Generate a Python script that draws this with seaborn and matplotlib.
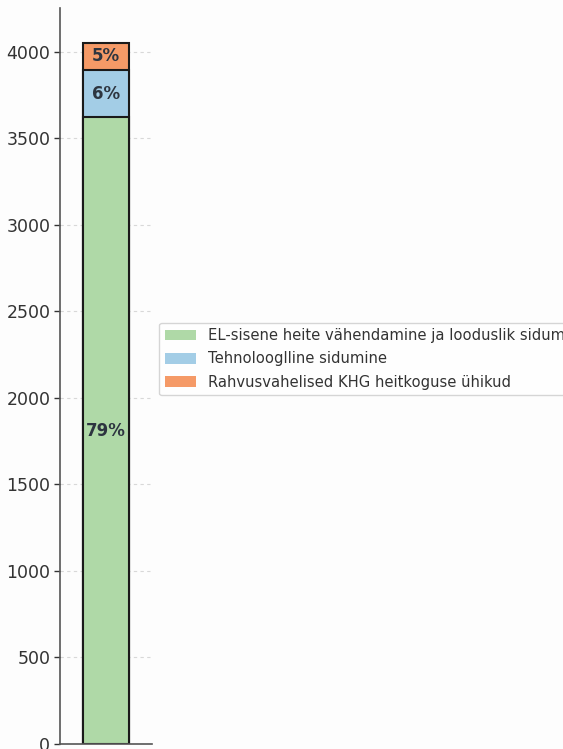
import numpy as np
import pandas as pd
import matplotlib
matplotlib.use("Agg")
import matplotlib.pyplot as plt
import seaborn as sns
from matplotlib.patches import Patch

# Segment values (stacked from bottom to top)
categories = ["Kokku"]
segment_names = [
    "EL-sisene heite vähendamine ja looduslik sidumine",
    "Tehnolooglline sidumine",
    "Rahvusvahelised KHG heitkoguse ühikud",
]
segment_values = [3620, 275, 155]
segment_labels = ["79%", "6%", "5%"]
segment_colors = ["#afd9a7", "#a3cde6", "#f59a67"]

sns.set_style("white")
plt.rcParams["font.family"] = ["DejaVu Sans"]

fig = plt.figure(figsize=(5.63, 7.49), dpi=100)
fig.patch.set_facecolor("#fdfdfd")
ax = fig.add_axes([60 / 563, 5 / 749, 92 / 563, 736 / 749])
ax.set_facecolor("#fdfdfd")

tops = np.cumsum(segment_values)
bottoms = tops - np.array(segment_values)

# Draw cumulative bars from the tallest down so each segment shows on top
for i in range(len(segment_values) - 1, -1, -1):
    df = pd.DataFrame({"cat": categories, "val": [tops[i]]})
    sns.barplot(data=df, x="cat", y="val", color=segment_colors[i],
                saturation=1, width=0.5, edgecolor="#1a1a1a",
                linewidth=1.5, ax=ax, zorder=2)

for b, v, lab in zip(bottoms, segment_values, segment_labels):
    ax.text(0, b + v / 2, lab, ha="center", va="center",
            fontsize=12, fontweight="bold", color="#2d3540", zorder=3)

ax.set_xlim(-0.5, 0.5)
ax.set_ylim(0, tops[-1] * 1.05)
ax.set_yticks(np.arange(0, 4001, 500))
ax.set_xticks([])
ax.set_xlabel("")
ax.set_ylabel("")
ax.yaxis.grid(True, linestyle=(0, (3, 3)), color="#d8d8d8", linewidth=0.8, zorder=0)
ax.set_axisbelow(True)
ax.tick_params(axis="y", labelsize=12.5, colors="#333333", length=4,
               width=1, direction="out", left=True, pad=3)
for s in ["top", "right"]:
    ax.spines[s].set_visible(False)
for s in ["left", "bottom"]:
    ax.spines[s].set_color("#555555")
    ax.spines[s].set_linewidth(1.2)

handles = [Patch(facecolor=c, edgecolor="none") for c in segment_colors]
fig.legend(handles, segment_names, loc="center left",
           bbox_to_anchor=(159 / 563, 1 - 359 / 749), fontsize=10.6,
           frameon=True, edgecolor="#cccccc", fancybox=True,
           labelcolor="#333333", handlelength=2.1, labelspacing=0.55,
           borderaxespad=0)

fig.savefig("out.png", dpi=100, facecolor=fig.get_facecolor())
